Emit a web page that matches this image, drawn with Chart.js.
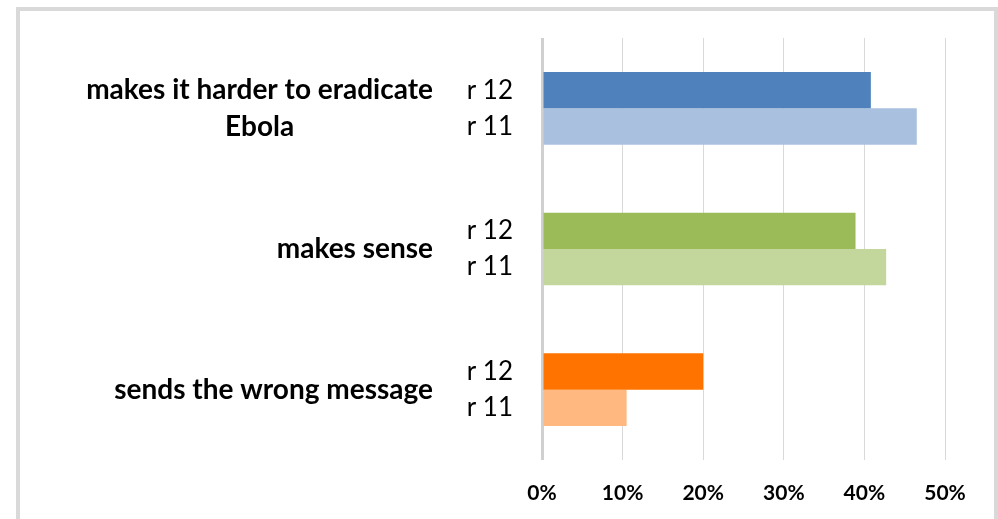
<!DOCTYPE html>
<html>
<head>
<meta charset="utf-8">
<title>Ebola statements r 11 vs r 12</title>
<script src="https://cdn.jsdelivr.net/npm/chart.js@4/dist/chart.umd.min.js"></script>
<style>
    html, body { margin: 0; padding: 0; background: #ffffff; }
    #wrap { position: relative; width: 998px; height: 519px; overflow: hidden; }
    #frame {
        position: absolute; left: 16px; top: 7px; width: 974px; height: 530px;
        border: 4px solid #d9d9d9; border-bottom: none;
    }
    #statements { position: absolute; left: 0; top: 0; }
</style>
</head>
<body>
<div id="wrap">
    <div id="frame"></div>
    <canvas id="statements" width="998" height="519"></canvas>
</div>
<script>
// categories (multi-line entries are arrays)
const categories = [['makes it harder to eradicate', 'Ebola'], 'makes sense', 'sends the wrong message'];
const seriesNames = ['r 12', 'r 11'];
const r12Values = [40.8, 38.9, 20.0];
const r11Values = [46.5, 42.7, 10.5];
const xTicks = [0, 10, 20, 30, 40, 50];

const r12Colors = ['#4f81bd', '#9bbb59', '#ff7300'];
const r11Colors = ['#aac0df', '#c3d69b', '#ffb880'];

const FONT = 'Lato, "Liberation Sans", sans-serif';

/**
 * Draws the category names left of the r 12 / r 11 labels,
 * multi-line names are centred on their widest line
 */
const categoryLabels = {
    id: 'categoryLabels',
    afterDraw(chart) {
        const ctx = chart.ctx;
        const yScale = chart.scales.y;
        const rightX = 433;
        const lineH = 37;
        ctx.save();
        ctx.font = 'bold 28px ' + FONT;
        ctx.fillStyle = '#000000';
        ctx.textBaseline = 'middle';
        categories.forEach((cat, i) => {
            const lines = Array.isArray(cat) ? cat : [cat];
            const widest = Math.max(...lines.map(l => ctx.measureText(l).width));
            const cx = rightX - widest / 2;
            const y0 = yScale.getPixelForValue(i) - (lines.length - 1) * lineH / 2;
            ctx.textAlign = 'center';
            lines.forEach((line, j) => {
                ctx.fillText(line, cx, y0 + j * lineH);
            });
        });
        ctx.restore();
    }
};

const config = {
    type: 'bar',
    data: {
        labels: categories.map((c, i) => i),
        datasets: [{
            label: seriesNames[0],
            data: r12Values,
            backgroundColor: r12Colors,
            categoryPercentage: 0.517,
            barPercentage: 1
        }, {
            label: seriesNames[1],
            data: r11Values,
            backgroundColor: r11Colors,
            categoryPercentage: 0.517,
            barPercentage: 1
        }]
    },
    options: {
        indexAxis: 'y',
        responsive: false,
        animation: false,
        layout: {
            autoPadding: false,
            padding: { top: 38, right: 53, left: 0, bottom: 0 }
        },
        plugins: {
            legend: { display: false },
            tooltip: { enabled: false }
        },
        scales: {
            x: {
                min: 0,
                max: 50,
                afterBuildTicks: function (scale) {
                    scale.ticks = xTicks.map(v => ({ value: v }));
                },
                afterFit: function (scale) {
                    scale.height = 59;
                    scale.paddingLeft = 0;
                    scale.paddingRight = 0;
                },
                border: { display: false },
                grid: {
                    drawTicks: false,
                    color: function (context) {
                        return context.tick && context.tick.value === 0 ? '#d0d0d0' : '#d9d9d9';
                    },
                    lineWidth: function (context) {
                        return context.tick && context.tick.value === 0 ? 3 : 1;
                    }
                },
                ticks: {
                    padding: 21,
                    color: '#000000',
                    font: { family: FONT, size: 21, weight: 'bold' },
                    callback: function (value) {
                        return value + '%';
                    }
                }
            },
            y: {
                afterFit: function (scale) {
                    scale.width = 542;
                    scale.paddingTop = 0;
                    scale.paddingBottom = 0;
                },
                border: { display: false },
                grid: { display: false, drawTicks: false },
                ticks: {
                    padding: 29,
                    color: '#000000',
                    font: { family: FONT, size: 26, lineHeight: '36px' },
                    callback: function () {
                        return seriesNames;
                    }
                }
            }
        }
    },
    plugins: [categoryLabels]
};

const ctx = document.getElementById('statements').getContext('2d');
new Chart(ctx, config);
</script>
</body>
</html>
